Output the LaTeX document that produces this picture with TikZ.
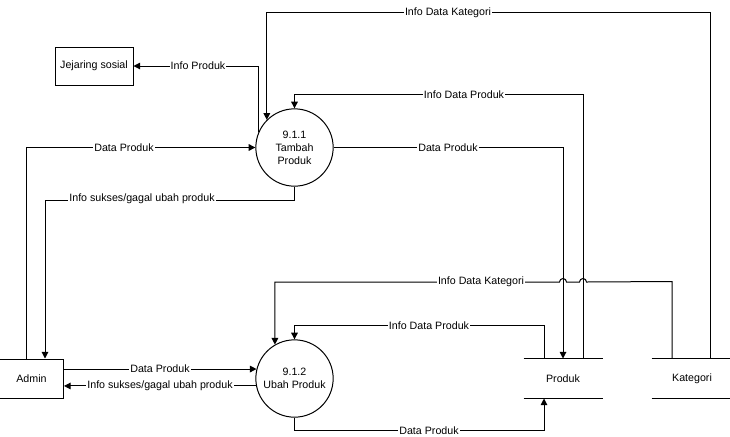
\documentclass[tikz,border=0pt]{standalone}
\usepackage{fontspec}
\setmainfont{Liberation Sans}
\usetikzlibrary{arrows.meta,calc}

\tikzset{every picture/.style={line width=0.75pt}}
\tikzset{
  dfdfont/.style={font=\fontsize{8}{9.75}\selectfont},
  flow/.style={draw, -{Triangle[length=5pt,width=5pt]}},
  lbl/.style={dfdfont, fill=white, inner sep=0.75pt},
  proc/.style={dfdfont, circle, draw, minimum size=58pt, inner sep=0pt, align=center},
  entity/.style={dfdfont, rectangle, draw, minimum height=29.25pt, inner sep=0pt},
  store/.style={dfdfont, rectangle, minimum height=29.25pt, inner sep=0pt},
}

\begin{document}
\begin{tikzpicture}[x=0.75pt,y=0.75pt,yscale=-1,xscale=1]
\useasboundingbox (0,0) rectangle (730,436);

%Shape: Circle
\node (c1) at (294.5,147.5) [proc] {9.1.1\\Tambah\\Produk};
%Shape: Circle
\node (c2) at (294.5,378.5) [proc] {9.1.2\\Ubah Produk};
%Shape: Rectangle
\node (jej) at (94,66) [entity, minimum width=58.5pt, minimum height=28.5pt] {Jejaring sosial};
%Shape: Rectangle
\node (adm) at (31.5,378.5) [entity, minimum width=48pt] {Admin};
%Shape: Data Store
\node (prod) at (563,378.5) [store, minimum width=58.5pt] {Produk};
\node (kat) at (692,378.5) [store, minimum width=60pt] {Kategori};
\draw (prod.north west) -- (prod.north east) (prod.south west) -- (prod.south east);
\draw (kat.north west) -- (kat.north east) (kat.south west) -- (kat.south east);

%Flows of 9.1.1
\draw[flow] ($(kat.north)+(18,0)$) -- ++(0,-346) -| (c1.135);
\draw[flow] ($(prod.north)+(20,0)$) -- ++(0,-264) -| (c1.north);
\draw[flow] (c1.east) -| (prod.north);
\draw[flow] (c1.157) |- (jej.east);
\draw[flow] ($(adm.north)+(-5.5,0)$) |- (c1.west);
\draw[flow] (c1.south) -- ++(0,14) -| ($(adm.north)+(13.5,0)$);

%Flows of 9.1.2
\draw[flow] ($(kat.north)+(-20,0)$) -- ++(0,-77) -- (586.5,282)
  arc[start angle=0,end angle=-180,radius=3.5] -- (566.5,282)
  arc[start angle=0,end angle=-180,radius=3.5] -| (c2.120);
\draw[flow] ($(prod.north)+(-19,0)$) -- ++(0,-33) -| (c2.north);
\draw[flow] (c2.166 -| adm.east) -- (c2.166);
\draw[flow] (c2.191) -- (c2.191 -| adm.east);
\draw[flow] (c2.south) -- ++(0,13) -| ($(prod.south)+(-19,0)$);

% Text Node
\node (t1) at (448,13) [lbl] {Info Data Kategori};
% Text Node
\node (t2) at (464,95) [lbl] {Info Data Produk};
% Text Node
\node (t3) at (448,147.5) [lbl] {Data Produk};
% Text Node
\node (t4) at (198,66) [lbl] {Info Produk};
% Text Node
\node (t5) at (124,147.5) [lbl] {Data Produk};
% Text Node
\node (t6) at (142,199) [lbl] {Info sukses/gagal ubah produk};
% Text Node
\node (t7) at (481,282) [lbl] {Info Data Kategori};
% Text Node
\node (t8) at (429,326) [lbl] {Info Data Produk};
% Text Node
\node (t9) at (160,369) [lbl] {Data Produk};
% Text Node
\node (t10) at (160,386) [lbl] {Info sukses/gagal ubah produk};
% Text Node
\node (t11) at (429,431) [lbl] {Data Produk};

\end{tikzpicture}
\end{document}
